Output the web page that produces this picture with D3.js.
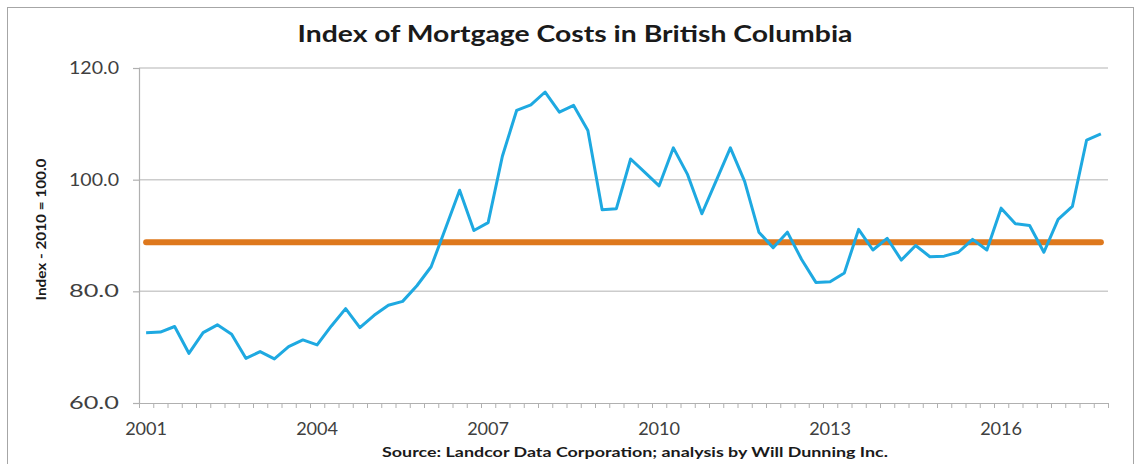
<!DOCTYPE html>
<html>
<head>
<meta charset="utf-8">
<script src="https://cdn.jsdelivr.net/npm/d3@7"></script>
<style>
  html, body { margin: 0; padding: 0; background: #fff; }
  svg { display: block; }
  text { font-family: Lato, "Open Sans", sans-serif; }
</style>
</head>
<body>
<svg id="chart" width="1141" height="464"></svg>
<script>
// Quarterly periods, 2001 Q1 – 2017 Q4
const years = d3.range(2001, 2018);
const quarters = years.flatMap(y => [1, 2, 3, 4].map(q => `${y} Q${q}`));

// Mortgage cost index (2010 = 100.0)
const mortgageIndex = [
  72.6, 72.7, 73.7, 68.9,
  72.6, 74.0, 72.3, 68.0,
  69.2, 67.9, 70.1, 71.3,
  70.4, 73.8, 76.9, 73.5,
  75.7, 77.5, 78.2, 81.0,
  84.4, 91.2, 98.1, 90.9,
  92.3, 104.2, 112.4, 113.4,
  115.7, 112.1, 113.3, 108.8,
  94.6, 94.8, 103.7, 101.3,
  98.9, 105.7, 100.9, 93.9,
  99.8, 105.7, 99.7, 90.6,
  87.8, 90.6, 85.7, 81.6,
  81.7, 83.3, 91.1, 87.4,
  89.5, 85.6, 88.2, 86.2,
  86.3, 87.0, 89.3, 87.4,
  94.9, 92.1, 91.8, 87.0,
  92.9, 95.2, 107.1, 108.2
];

// Long-term average level
const averageLevel = 88.8;

// Axis labels
const yTicks = [60, 80, 100, 120];
const xTickLabels = ["2001", "2004", "2007", "2010", "2013", "2016"];

const title = "Index of Mortgage Costs in British Columbia";
const yTitle = "Index - 2010 = 100.0";
const source = "Source: Landcor Data Corporation; analysis by Will Dunning Inc.";

const svg = d3.select("#chart");
const plot = { left: 139, right: 1108, top: 68, bottom: 403 };

// frame around the chart
svg.append("rect")
  .attr("x", 7.5).attr("y", 7.5)
  .attr("width", 1126).attr("height", 470)
  .attr("fill", "none").attr("stroke", "#a6a6a6").attr("stroke-width", 1);

const x = d3.scaleBand().domain(quarters).range([plot.left, plot.right]);
const xEdge = d3.scaleLinear().domain([0, quarters.length]).range([plot.left, plot.right]);
const y = d3.scaleLinear().domain([60, 120]).range([plot.bottom, plot.top]);

// horizontal gridlines
svg.append("g")
  .selectAll("line")
  .data(yTicks.filter(v => v !== 60))
  .join("line")
  .attr("x1", plot.left).attr("x2", plot.right)
  .attr("y1", d => y(d)).attr("y2", d => y(d))
  .attr("stroke", "#cccccc").attr("stroke-width", 1.5);

// y axis
const yAxis = svg.append("g")
  .attr("transform", `translate(${plot.left},0)`)
  .call(d3.axisLeft(y).tickValues(yTicks).tickFormat(d3.format(".1f")).tickSize(6).tickPadding(14));
yAxis.select(".domain").attr("stroke", "#b0b0b0").attr("stroke-width", 1.2);
yAxis.selectAll(".tick line").attr("stroke", "#b0b0b0").attr("stroke-width", 1.2);
yAxis.selectAll(".tick text")
  .attr("fill", "#404040").attr("font-size", 17).attr("font-family", "Lato, sans-serif")
  .attr("textLength", 50).attr("lengthAdjust", "spacingAndGlyphs");

// x axis: minor ticks on quarter boundaries
const xAxis = svg.append("g")
  .attr("transform", `translate(0,${plot.bottom})`)
  .call(d3.axisBottom(xEdge).tickValues(d3.range(0, quarters.length + 1)).tickFormat("").tickSize(5).tickSizeOuter(0));
xAxis.select(".domain").attr("stroke", "#b0b0b0").attr("stroke-width", 1.2);
xAxis.selectAll(".tick line").attr("stroke", "#b0b0b0").attr("stroke-width", 1);

// x axis: year labels every third year
const xLabels = svg.append("g")
  .attr("transform", `translate(0,${plot.bottom})`)
  .call(d3.axisBottom(x)
    .tickValues(xTickLabels.map(yr => `${yr} Q1`))
    .tickFormat(d => d.slice(0, 4))
    .tickSize(0).tickPadding(19));
xLabels.select(".domain").remove();
xLabels.selectAll(".tick text")
  .attr("fill", "#404040").attr("font-size", 18).attr("font-family", "Lato, sans-serif")
  .attr("textLength", 42).attr("lengthAdjust", "spacingAndGlyphs");

// average level line
const avgLine = d3.line()
  .x(d => x(d) + x.bandwidth() / 2)
  .y(() => y(averageLevel));
svg.append("path")
  .datum(quarters)
  .attr("d", avgLine)
  .attr("fill", "none")
  .attr("stroke", "#de781d")
  .attr("stroke-width", 6)
  .attr("stroke-linecap", "round");

// index series
const series = quarters.map((q, i) => ({ q, v: mortgageIndex[i] }));
const idxLine = d3.line()
  .x(d => x(d.q) + x.bandwidth() / 2)
  .y(d => y(d.v));
svg.append("path")
  .datum(series)
  .attr("d", idxLine)
  .attr("fill", "none")
  .attr("stroke", "#1ea9e1")
  .attr("stroke-width", 3)
  .attr("stroke-linejoin", "round");

// titles
svg.append("text")
  .attr("x", 575).attr("y", 42)
  .attr("text-anchor", "middle")
  .attr("font-size", 22).attr("font-weight", 700)
  .attr("fill", "#1a1a1a")
  .attr("textLength", 555).attr("lengthAdjust", "spacingAndGlyphs")
  .text(title);

svg.append("text")
  .attr("transform", `translate(46,${(plot.top + plot.bottom) / 2 - 6}) rotate(-90)`)
  .attr("text-anchor", "middle")
  .attr("font-size", 14).attr("font-weight", 700)
  .attr("fill", "#1a1a1a")
  .attr("textLength", 142).attr("lengthAdjust", "spacingAndGlyphs")
  .text(yTitle);

svg.append("text")
  .attr("x", 635).attr("y", 457)
  .attr("text-anchor", "middle")
  .attr("font-size", 13).attr("font-weight", 700)
  .attr("fill", "#1a1a1a")
  .attr("textLength", 506).attr("lengthAdjust", "spacingAndGlyphs")
  .text(source);
</script>
</body>
</html>
